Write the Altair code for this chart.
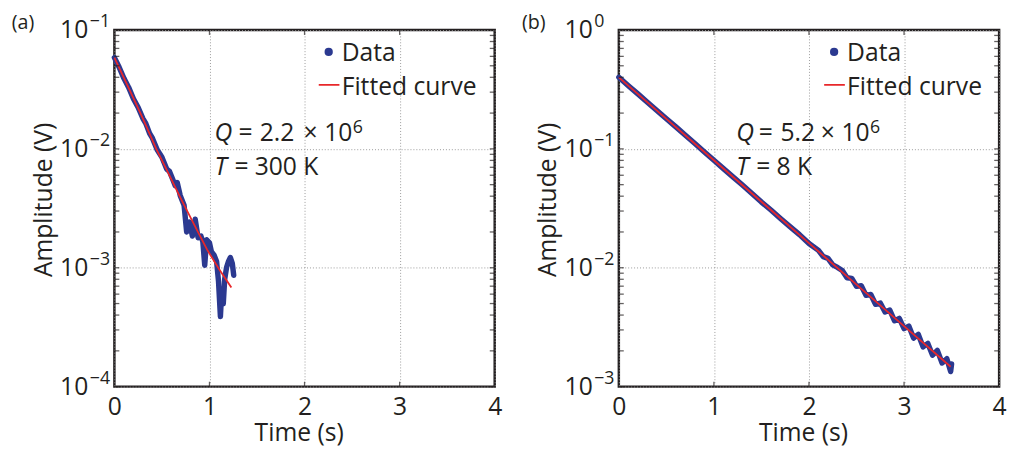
import altair as alt
import pandas as pd

NAVY = "#2B3990"
RED = "#E8272A"
INK = "#231F20"
GRID = "#9a9a9a"
FONT = "Open Sans"
FS = 25
W, H = 386, 362

# ---------------- panel (a) : T = 300 K ----------------
a_time = [0.00, 0.05, 0.10, 0.15, 0.20, 0.25, 0.30, 0.33, 0.37, 0.40, 0.45, 0.50,
          0.55, 0.58, 0.611, 0.64, 0.661, 0.692, 0.733, 0.76, 0.79, 0.82, 0.85,
          0.88, 0.91, 0.93, 0.95, 0.97, 1.00, 1.02, 1.05, 1.075, 1.095, 1.115,
          1.13, 1.145, 1.16, 1.18, 1.20, 1.22, 1.24, 1.255]
a_amp = [0.0586, 0.0486, 0.0392, 0.0329, 0.0264, 0.0223, 0.0180, 0.0164, 0.0135,
         0.0123, 0.00982, 0.00851, 0.00676, 0.00646, 0.00561, 0.00490, 0.00520,
         0.00406, 0.00335, 0.00200, 0.00242, 0.00185, 0.00256, 0.00179, 0.00185,
         0.00166, 0.00105, 0.00172, 0.00162, 0.00137, 0.00127, 0.00113, 0.00077,
         0.000388, 0.000662, 0.000498, 0.00080, 0.00101, 0.00113, 0.00122,
         0.00109, 0.000865]
a_fit_time = [0.0, 0.1, 0.2, 0.3, 0.44, 0.55, 0.7, 0.85, 0.975, 1.1, 1.23]
a_fit_amp = [0.0586, 0.0395, 0.0267, 0.0180, 0.0100, 0.00667, 0.00380, 0.00222,
             0.00142, 0.000977, 0.000682]

# ---------------- panel (b) : T = 8 K ----------------
b_time = [0.0, 0.1, 0.2, 0.3, 0.4, 0.5, 0.6, 0.7, 0.8, 0.9, 1.0, 1.1, 1.2, 1.3,
          1.4, 1.5, 1.6, 1.7, 1.8, 1.9, 2.0, 2.1, 2.15, 2.2, 2.25, 2.3, 2.35,
          2.4, 2.45, 2.5, 2.55, 2.6, 2.65, 2.7, 2.75, 2.8, 2.85, 2.9, 2.95, 3.0,
          3.05, 3.1, 3.15, 3.2, 3.25, 3.3, 3.35, 3.4, 3.45, 3.49, 3.5]
b_amp = [0.400, 0.340, 0.290, 0.247, 0.210, 0.179, 0.153, 0.130, 0.111, 0.0942,
         0.0802, 0.0682, 0.0582, 0.0496, 0.0422, 0.0357, 0.0306, 0.0260, 0.0222,
         0.0190, 0.0160, 0.0140, 0.0124, 0.0120, 0.01057, 0.01007, 0.00948,
         0.00824, 0.00815, 0.00697, 0.00705, 0.00586, 0.00596, 0.00493, 0.00505,
         0.00425, 0.00440, 0.00358, 0.00375, 0.00308, 0.00323, 0.00256, 0.00275,
         0.00216, 0.00231, 0.00184, 0.00202, 0.00158, 0.00172, 0.00134, 0.00155]
b_fit_time = [0.0, 0.5, 1.0, 1.5, 2.0, 2.5, 3.0, 3.49]
b_fit_amp = [0.400, 0.179, 0.0802, 0.0359, 0.0161, 0.00721, 0.00323, 0.00147]

# ---------------- axes / labels ----------------
x_tick_values = [0, 1, 2, 3, 4]
x_inner_ticks = [1, 2, 3]
a_decades = [1e-4, 1e-3, 1e-2, 1e-1]
a_exponents = ["\u22124", "\u22123", "\u22122", "\u22121"]
b_decades = [1e-3, 1e-2, 1e-1, 1e0]
b_exponents = ["\u22123", "\u22122", "\u22121", "0"]
legend_labels = ["Data", "Fitted curve"]
x_title = "Time (s)"
y_title = "Amplitude (V)"

a_ann = [("Q", 101.7, 112.3, FS, "italic"), ("=", 126, 112.3, FS, "normal"),
         ("2.2", 147.4, 112.3, FS, "normal"), ("\u00d7", 192, 112.3, FS, "normal"),
         ("10", 213, 112.3, FS, "normal"), ("6", 242, 104.7, 18, "normal"),
         ("T", 101.7, 147, FS, "italic"), ("=", 122, 147, FS, "normal"),
         ("300 K", 142.4, 147, FS, "normal")]
b_ann = [("Q", 119.3, 112.3, FS, "italic"), ("=", 142, 112.3, FS, "normal"),
         ("5.2", 164, 112.3, FS, "normal"), ("\u00d7", 205, 112.3, FS, "normal"),
         ("10", 226, 112.3, FS, "normal"), ("6", 255, 104.7, 18, "normal"),
         ("T", 119.3, 147, FS, "italic"), ("=", 139.5, 147, FS, "normal"),
         ("8 K", 160, 147, FS, "normal")]

ONE = pd.DataFrame({"d": [0]})


def txt(s, x, y, size=FS, style="normal", align="left", color=INK):
    return alt.Chart(ONE).mark_text(
        text=s, align=align, baseline="alphabetic", fontSize=size,
        fontStyle=style, color=color
    ).encode(x=alt.value(x), y=alt.value(y))


def panel(tag, tag_x, t, amp, ft, famp, decades, exps, ann, leg_dx):
    xs = alt.Scale(domain=[0, 4], nice=False, zero=False)
    ys = alt.Scale(type="log", domain=[decades[0], decades[-1]], nice=False)
    xaxis = alt.Axis(values=x_tick_values, format="d", title=x_title, grid=True,
                     gridDash=[1, 2], gridColor=GRID, gridWidth=1, ticks=False,
                     domain=False, labelFlush=False, labelOverlap=False,
                     labelPadding=8, labelFontSize=FS, labelColor=INK,
                     titleFontSize=FS, titleFontWeight="normal", titleColor=INK,
                     titleX=W / 2 - 6, titleY=55, titleBaseline="alphabetic",
                     titleAlign="center")
    yaxis = alt.Axis(values=decades, labelExpr="'10'", title=y_title, grid=True,
                     gridDash=[1, 2], gridColor=GRID, gridWidth=1, ticks=False,
                     domain=False, labelOverlap=False, labelPadding=27,
                     labelFontSize=FS, labelBaseline="middle", labelColor=INK,
                     titleFontSize=FS, titleFontWeight="normal", titleColor=INK,
                     titleX=-64, titleY=H / 2 - 9, titleAngle=270,
                     titleBaseline="alphabetic", titleAlign="center")

    def X():
        return alt.X("t:Q", scale=xs, axis=xaxis, title=x_title)

    def Y():
        return alt.Y("amp:Q", scale=ys, axis=yaxis, title=y_title)

    data_df = pd.DataFrame({"t": t, "amp": amp})
    fit_df = pd.DataFrame({"t": ft, "amp": famp})

    data_line = alt.Chart(data_df).mark_line(
        color=NAVY, strokeWidth=5.5, strokeJoin="round", strokeCap="round"
    ).encode(x=X(), y=Y())
    fit_line = alt.Chart(fit_df).mark_line(color=RED, strokeWidth=1.8).encode(
        x=X(), y=Y())

    # minor + major ticks along left / right frame (inward)
    tick_vals = []
    for d in decades[:-1]:
        for k in range(1, 10):
            tick_vals.append(d * k)
    tick_vals.append(decades[-1])
    tick_df = pd.DataFrame({"amp": tick_vals})
    yt_left = alt.Chart(tick_df).mark_tick(orient="horizontal", size=5, thickness=1.3,
                                           color=INK).encode(y=Y(), x=alt.value(2.5))
    yt_right = alt.Chart(tick_df).mark_tick(orient="horizontal", size=5, thickness=1.3,
                                            color=INK).encode(y=Y(), x=alt.value(W - 2.5))
    xt_df = pd.DataFrame({"t": x_inner_ticks})
    xt_bot = alt.Chart(xt_df).mark_tick(orient="vertical", size=5, thickness=1.3,
                                        color=INK).encode(x=X(), y=alt.value(H - 2.5))
    xt_top = alt.Chart(xt_df).mark_tick(orient="vertical", size=5, thickness=1.3,
                                        color=INK).encode(x=X(), y=alt.value(2.5))

    exp_df = pd.DataFrame({"amp": decades, "e": exps})
    exp_txt = alt.Chart(exp_df).mark_text(align="left", baseline="alphabetic",
                                          fontSize=18, dy=-3, color=INK).encode(
        y=Y(), x=alt.value(-25), text="e:N")

    leg_dot = alt.Chart(ONE).mark_circle(size=70, color=NAVY, opacity=1).encode(
        x=alt.value(217.5 + leg_dx), y=alt.value(22.3))
    leg_rule = alt.Chart(ONE).mark_rule(color=RED, strokeWidth=1.8).encode(
        x=alt.value(207.4 + leg_dx), x2=alt.value(228.4 + leg_dx), y=alt.value(55.7))
    leg_t1 = txt(legend_labels[0], 230.7 + leg_dx, 31.3, FS)
    leg_t2 = txt(legend_labels[1], 230.7 + leg_dx, 65.7, FS)

    ann_layers = [txt(s, x, y, size, style) for (s, x, y, size, style) in ann]
    tag_txt = txt(tag, tag_x, -1, 20)

    return alt.layer(data_line, fit_line, yt_left, yt_right, xt_bot, xt_top, exp_txt,
                     leg_dot, leg_rule, leg_t1, leg_t2, *ann_layers, tag_txt
                     ).properties(width=W, height=H)


pa = panel("(a)", -104.3, a_time, a_amp, a_fit_time, a_fit_amp, a_decades,
           a_exponents, a_ann, 0)
pb = panel("(b)", -98.3, b_time, b_amp, b_fit_time, b_fit_amp, b_decades,
           b_exponents, b_ann, 1)

chart = alt.hconcat(pa, pb, spacing=17).properties(
    padding={"left": 2, "top": 0, "right": 0, "bottom": 0}
).configure(font=FONT).configure_view(stroke=INK, strokeWidth=2.5)

chart.save("out.html", embed_options={"renderer": "svg", "actions": False})
